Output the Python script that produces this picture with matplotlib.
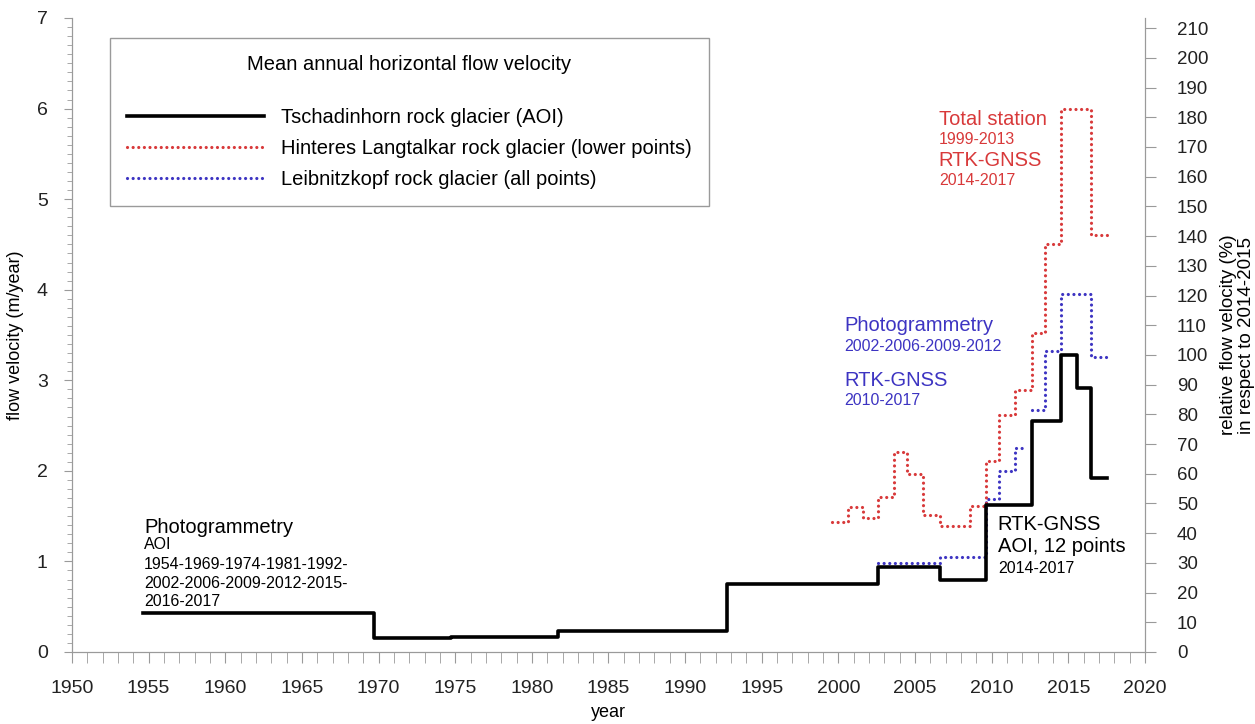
import numpy as np
import matplotlib
matplotlib.use("Agg")
import matplotlib.pyplot as plt
from matplotlib.ticker import MultipleLocator

plt.rcParams['font.family'] = ['Liberation Sans', 'DejaVu Sans']

# step edges (year) and mean annual velocity (m/year) of each interval
black_edges = [1954.6, 1969.7, 1974.7, 1981.7, 1992.7, 2002.6, 2006.6, 2009.6,
               2012.6, 2014.5, 2015.55, 2016.5, 2017.55]
black_vel = [0.43, 0.16, 0.17, 0.23, 0.75, 0.94, 0.80, 1.62, 2.55, 3.28, 2.91, 1.92]

red_edges = [1999.6, 2000.6, 2001.6, 2002.6, 2003.6, 2004.5, 2005.5, 2006.6, 2008.6,
             2009.6, 2010.5, 2011.5, 2012.6, 2013.5, 2014.5, 2016.5, 2017.5]
red_vel = [1.43, 1.60, 1.48, 1.71, 2.21, 1.96, 1.51, 1.39, 1.61,
           2.11, 2.62, 2.89, 3.52, 4.51, 5.99, 4.60]

blue_edges = [2002.6, 2006.6, 2009.6, 2010.5, 2011.5, 2012.1, 2012.6, 2013.5,
              2014.5, 2016.5, 2017.5]
blue_vel = [0.98, 1.05, 1.69, 2.00, 2.25, np.nan, 2.67, 3.32, 3.95, 3.26]

labels = ["Tschadinhorn rock glacier (AOI)",
          "Hinteres Langtalkar rock glacier (lower points)",
          "Leibnitzkopf rock glacier (all points)"]

ref_vel = black_vel[9]  # 2014-2015 = 100 %

red_c = '#d8393a'
blue_c = '#3d34c2'
gray = '#9a9a9a'
dots = (0, (0.01, 1.75))


def steps(edges, vals):
    return np.array(edges), np.append(vals, vals[-1])


fig = plt.figure(figsize=(12.55, 7.24), dpi=100)
ax = fig.add_axes([72 / 1255, 1 - 652 / 724, 1073 / 1255, 634 / 724])

x, y = steps(blue_edges, blue_vel)
ax.step(x, y, where='post', color=blue_c, lw=2.3, linestyle=dots,
        dash_capstyle='round', label=labels[2])
x, y = steps(red_edges, red_vel)
ax.step(x, y, where='post', color=red_c, lw=2.3, linestyle=dots,
        dash_capstyle='round', label=labels[1])
x, y = steps(black_edges, black_vel)
ax.step(x, y, where='post', color='black', lw=2.6, label=labels[0], zorder=3)

ax.set_xlim(1950, 2020)
ax.set_ylim(0, 7)
ax.xaxis.set_major_locator(MultipleLocator(5))
ax.xaxis.set_minor_locator(MultipleLocator(1))
ax.yaxis.set_major_locator(MultipleLocator(1))
ax.yaxis.set_minor_locator(MultipleLocator(0.1))
ax.tick_params(axis='x', which='both', direction='out', length=8, color=gray,
               labelsize=14, pad=12, labelcolor='#222222')
ax.tick_params(axis='y', which='major', direction='out', length=6, color=gray,
               labelsize=14, pad=11.5, labelcolor='#222222')
ax.tick_params(axis='y', which='minor', direction='out', length=3.5, color=gray)
for s in ['left', 'bottom', 'right']:
    ax.spines[s].set_color(gray)
ax.spines['top'].set_visible(False)

ax.set_xlabel('year', fontsize=13, labelpad=5)
ax.set_ylabel('flow velocity (m/year)', fontsize=13, labelpad=9)

ax2 = ax.twinx()
ax2.set_ylim(0, 7 * 100 / ref_vel)
ax2.set_yticks(np.arange(0, 211, 10))
ax2.tick_params(axis='y', direction='out', length=8, color=gray, labelsize=13.5,
                pad=15, labelcolor='#222222')
for s in ['left', 'bottom', 'right']:
    ax2.spines[s].set_color(gray)
ax2.spines['top'].set_visible(False)
ax2.set_ylabel('relative flow velocity (%)\nin respect to 2014-2015', fontsize=13.5,
               labelpad=8, linespacing=1.1)

handles, labs = ax.get_legend_handles_labels()
order = [2, 1, 0]
leg = ax.legend([handles[i] for i in order], [labs[i] for i in order],
                title='Mean annual horizontal flow velocity\n',
                loc='upper left', bbox_to_anchor=((110 - 72) / 1073, (652 - 38) / 634),
                borderaxespad=0, fontsize=14.5, title_fontsize=14.5,
                handlelength=6.8, handletextpad=0.85, labelspacing=0.6,
                borderpad=0.85, fancybox=False, framealpha=1, edgecolor=gray)
leg.get_frame().set_linewidth(1.0)

# annotations
ax.text(1954.7, 1.38, 'Photogrammetry', fontsize=14.5, va='center', ha='left')
ax.text(1954.7, 1.19, 'AOI', fontsize=11.5, va='center', ha='left')
ax.text(1954.7, 0.76,
        '1954-1969-1974-1981-1992-\n2002-2006-2009-2012-2015-\n2016-2017',
        fontsize=11.5, va='center', ha='left', linespacing=1.3)

ax.text(2010.4, 1.41, 'RTK-GNSS', fontsize=14.5, va='center', ha='left')
ax.text(2010.4, 1.16, 'AOI, 12 points', fontsize=14.5, va='center', ha='left')
ax.text(2010.4, 0.92, '2014-2017', fontsize=11.5, va='center', ha='left')

ax.text(2006.55, 5.88, 'Total station', fontsize=14.5, va='center', ha='left', color=red_c)
ax.text(2006.55, 5.66, '1999-2013', fontsize=11.5, va='center', ha='left', color=red_c)
ax.text(2006.55, 5.43, 'RTK-GNSS', fontsize=14.5, va='center', ha='left', color=red_c)
ax.text(2006.55, 5.21, '2014-2017', fontsize=11.5, va='center', ha='left', color=red_c)

ax.text(2000.4, 3.60, 'Photogrammetry', fontsize=14.5, va='center', ha='left', color=blue_c)
ax.text(2000.4, 3.37, '2002-2006-2009-2012', fontsize=11.5, va='center', ha='left', color=blue_c)
ax.text(2000.4, 3.00, 'RTK-GNSS', fontsize=14.5, va='center', ha='left', color=blue_c)
ax.text(2000.4, 2.78, '2010-2017', fontsize=11.5, va='center', ha='left', color=blue_c)

fig.savefig('out.png', dpi=100)
